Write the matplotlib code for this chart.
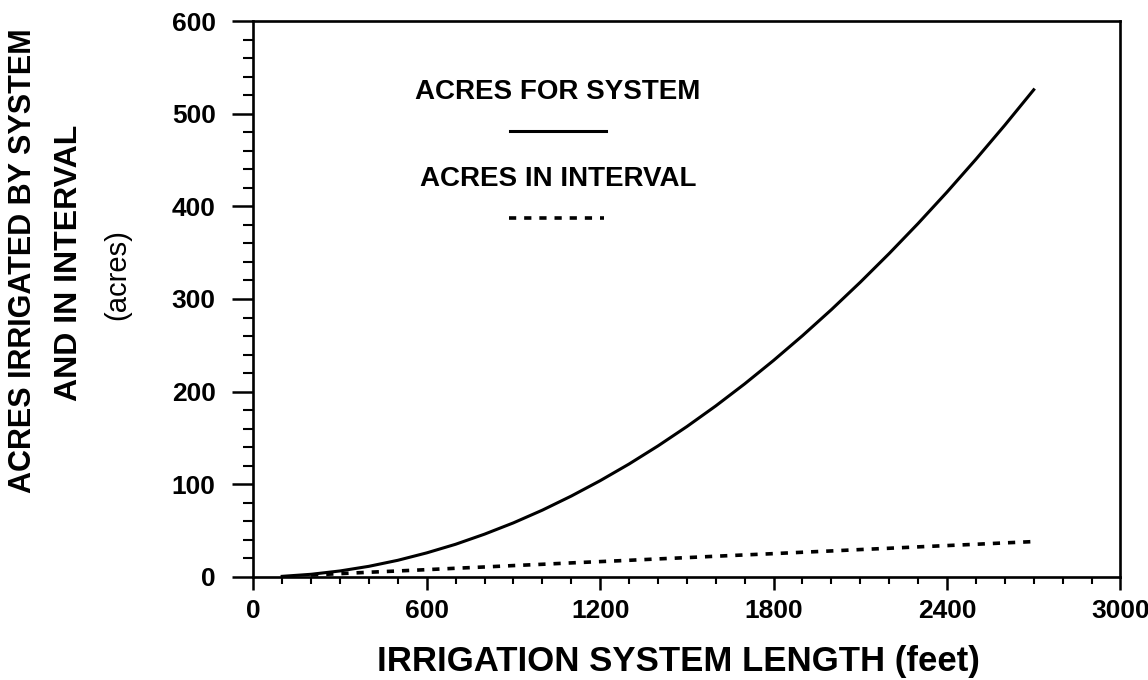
import numpy as np
import matplotlib
matplotlib.use("Agg")
import matplotlib.pyplot as plt
from matplotlib.ticker import MultipleLocator

# system length (feet) and acres
length_sys = [100, 200, 300, 400, 500, 600, 700, 800, 900, 1000, 1100, 1200, 1300, 1400,
              1500, 1600, 1700, 1800, 1900, 2000, 2100, 2200, 2300, 2400, 2500, 2600, 2700]
acres_sys = [0.7, 2.9, 6.5, 11.5, 18.0, 26.0, 35.3, 46.2, 58.4, 72.1, 87.3, 103.9, 121.9, 141.4,
             162.3, 184.6, 208.4, 233.7, 260.4, 288.5, 318.1, 349.1, 381.5, 415.4, 450.8, 487.6, 525.8]

length_int = [200, 300, 400, 500, 600, 700, 800, 900, 1000, 1100, 1200, 1300, 1400,
              1500, 1600, 1700, 1800, 1900, 2000, 2100, 2200, 2300, 2400, 2500, 2600, 2700]
acres_int = [2.2, 3.6, 5.1, 6.5, 7.9, 9.4, 10.8, 12.3, 13.7, 15.2, 16.6, 18.0, 19.5,
             20.9, 22.4, 23.8, 25.2, 26.7, 28.1, 29.6, 31.0, 32.5, 33.9, 35.3, 36.8, 38.2]

plt.rcParams['font.family'] = ['Liberation Sans', 'DejaVu Sans']

fig = plt.figure(figsize=(11.48, 6.8), dpi=100)
ax = fig.add_axes([0.2206, 0.1515, 0.7554, 0.8176])

ax.plot(length_sys, acres_sys, color='black', lw=2.2)
ax.plot(length_int, acres_int, color='black', lw=2.6, dashes=(2.0, 2.2))

ax.set_xlim(0, 3000)
ax.set_ylim(0, 600)
ax.xaxis.set_major_locator(MultipleLocator(600))
ax.xaxis.set_minor_locator(MultipleLocator(100))
ax.yaxis.set_major_locator(MultipleLocator(100))
ax.yaxis.set_minor_locator(MultipleLocator(20))

for s in ax.spines.values():
    s.set_linewidth(1.9)
ax.tick_params(axis='x', which='major', length=9, width=1.8, direction='out', pad=7)
ax.tick_params(axis='x', which='minor', length=5, width=1.5, direction='out')
ax.tick_params(axis='y', which='major', length=15, width=1.8, direction='out', pad=12)
ax.tick_params(axis='y', which='minor', length=7, width=1.5, direction='out')
for lab in ax.get_xticklabels() + ax.get_yticklabels():
    lab.set_fontsize(19)
    lab.set_fontweight('bold')

# hand-drawn legend inside the plot
ax.text(0.3515, 0.8725, 'ACRES FOR SYSTEM', transform=ax.transAxes, ha='center', va='center',
        fontsize=20, fontweight='bold')
ax.plot([0.2965, 0.4065], [0.8025, 0.8025], transform=ax.transAxes, color='black', lw=2.2)
ax.text(0.3515, 0.716, 'ACRES IN INTERVAL', transform=ax.transAxes, ha='center', va='center',
        fontsize=20, fontweight='bold')
ax.plot([0.2945, 0.4045], [0.6465, 0.6465], transform=ax.transAxes, color='black', lw=2.6,
        dashes=(2.0, 2.2))

ax.set_xlabel('IRRIGATION SYSTEM LENGTH (feet)', fontsize=25, fontweight='bold')
ax.xaxis.set_label_coords(0.49, -0.122)
fig.text(0.020, 0.617, 'ACRES IRRIGATED BY SYSTEM', rotation=90, ha='center', va='center',
         fontsize=22, fontweight='bold')
fig.text(0.0605, 0.613, 'AND IN INTERVAL', rotation=90, ha='center', va='center',
         fontsize=23, fontweight='bold')
fig.text(0.102, 0.596, '(acres)', rotation=90, ha='center', va='center',
         fontsize=21)

fig.savefig('out.png', dpi=100)
